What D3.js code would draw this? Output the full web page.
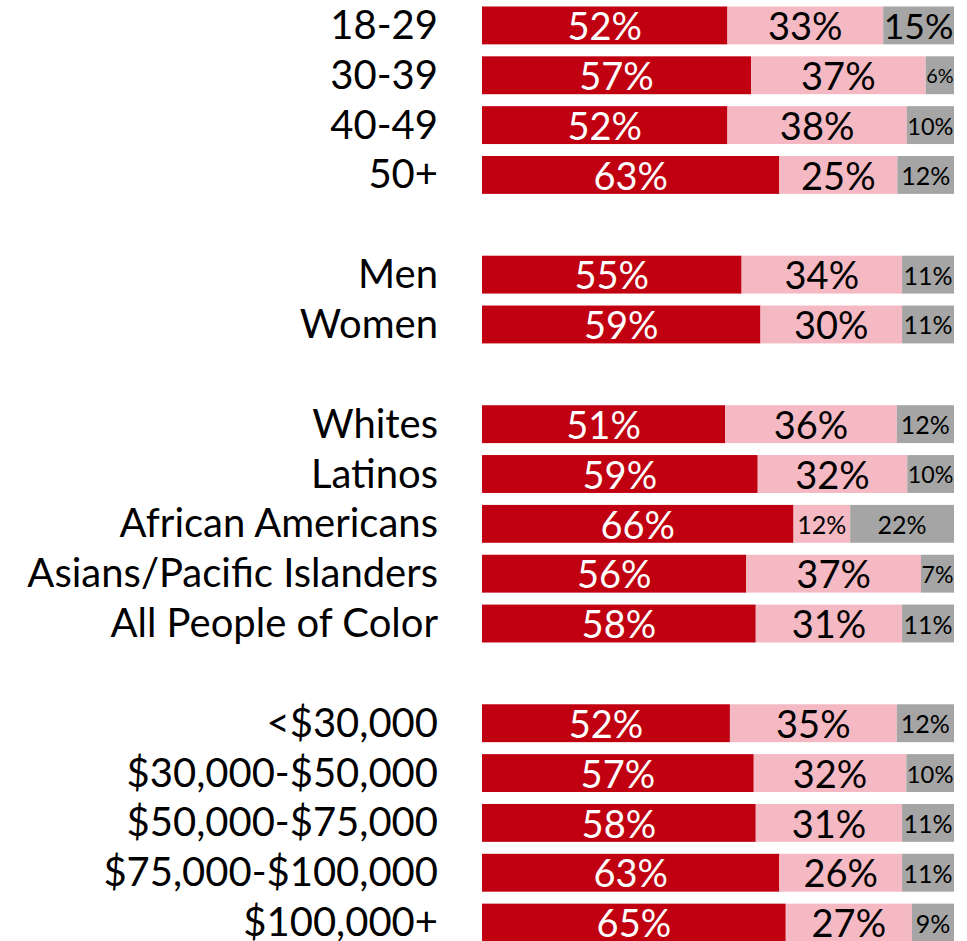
<!DOCTYPE html>
<html lang="en">
<head>
    <meta charset="UTF-8">
    <title>Stacked bars by group</title>
    <script src="https://d3js.org/d3.v7.min.js"></script>
    <style>
        body {
            margin: 0;
            padding: 0;
            background-color: white;
        }
        svg {
            display: block;
            font-family: 'Lato', sans-serif;
        }
    </style>
</head>
<body>
    <svg id="chart" width="967" height="941"></svg>

    <script>
        // categories in display order, "" = blank spacer row between groups
        const categories = [
            "18-29", "30-39", "40-49", "50+", "",
            "Men", "Women", "",
            "Whites", "Latinos", "African Americans", "Asians/Pacific Islanders", "All People of Color", "",
            "<$30,000", "$30,000-$50,000", "$50,000-$75,000", "$75,000-$100,000", "$100,000+"
        ];

        const seriesKeys = ["first", "second", "third"];

        const firstValues  = [52, 57, 52, 63, null, 55, 59, null, 51, 59, 66, 56, 58, null, 52, 57, 58, 63, 65];
        const secondValues = [33, 37, 38, 25, null, 34, 30, null, 36, 32, 12, 37, 31, null, 35, 32, 31, 26, 27];
        const thirdValues  = [15,  6, 10, 12, null, 11, 11, null, 12, 10, 22,  7, 11, null, 12, 10, 11, 11,  9];

        const colors = { first: "#c00010", second: "#f4b9c2", third: "#a5a5a5" };
        const textColors = { first: "white", second: "black", third: "black" };
        // grey labels are set small, except this one row
        const bigThirdLabel = ["18-29"];

        const width = 967, height = 941;
        const barLeft = 482, barRight = 954;

        const svg = d3.select("#chart");

        // rows with data only; each row is shown as shares of its own total
        const rows = categories.map((c, i) => ({
            cat: c,
            first: firstValues[i],
            second: secondValues[i],
            third: thirdValues[i]
        }));
        const dataRows = rows.filter(d => d.first !== null);

        const y = d3.scaleBand()
            .domain(categories.map((c, i) => i))
            .range([0.5, 947.5])
            .paddingInner(0.24)
            .paddingOuter(0.12);

        const x = d3.scaleLinear()
            .domain([0, 1])
            .range([barLeft, barRight]);

        const stack = d3.stack()
            .keys(seriesKeys)
            .offset(d3.stackOffsetExpand);

        const stacked = stack(dataRows);
        const rowIndex = d => categories.indexOf(d.data.cat);

        // category labels
        svg.append("g")
            .selectAll("text")
            .data(dataRows)
            .join("text")
            .attr("x", 438)
            .attr("y", d => y(categories.indexOf(d.cat)) + y.bandwidth() / 2 + 13.5)
            .attr("text-anchor", "end")
            .attr("font-size", 40)
            .attr("fill", "black")
            .text(d => d.cat);

        // bars
        const layers = svg.append("g")
            .selectAll("g")
            .data(stacked)
            .join("g")
            .attr("fill", s => colors[s.key]);

        layers.selectAll("rect")
            .data(s => s)
            .join("rect")
            .attr("x", d => x(d[0]))
            .attr("y", d => y(rowIndex(d)))
            .attr("width", d => x(d[1]) - x(d[0]))
            .attr("height", y.bandwidth());

        // value labels
        const labelGroup = svg.append("g");
        stacked.forEach(s => {
            s.forEach(d => {
                const w = x(d[1]) - x(d[0]);
                const cx = (x(d[0]) + x(d[1])) / 2;
                const cy = y(rowIndex(d)) + y.bandwidth() / 2;
                let big = w >= 65;
                if (s.key === "third") big = bigThirdLabel.includes(d.data.cat);
                let fs = big ? 38 : 25;
                const t = labelGroup.append("text")
                    .attr("x", cx)
                    .attr("text-anchor", "middle")
                    .attr("fill", textColors[s.key])
                    .attr("font-size", fs)
                    .text(d.data[s.key] + "%");
                const tw = t.node().getComputedTextLength();
                if (tw > w - 1) {
                    fs = fs * (w - 1) / tw;
                    t.attr("font-size", fs);
                }
                t.attr("y", cy + fs * 0.36 + 1);
            });
        });
    </script>
</body>
</html>
